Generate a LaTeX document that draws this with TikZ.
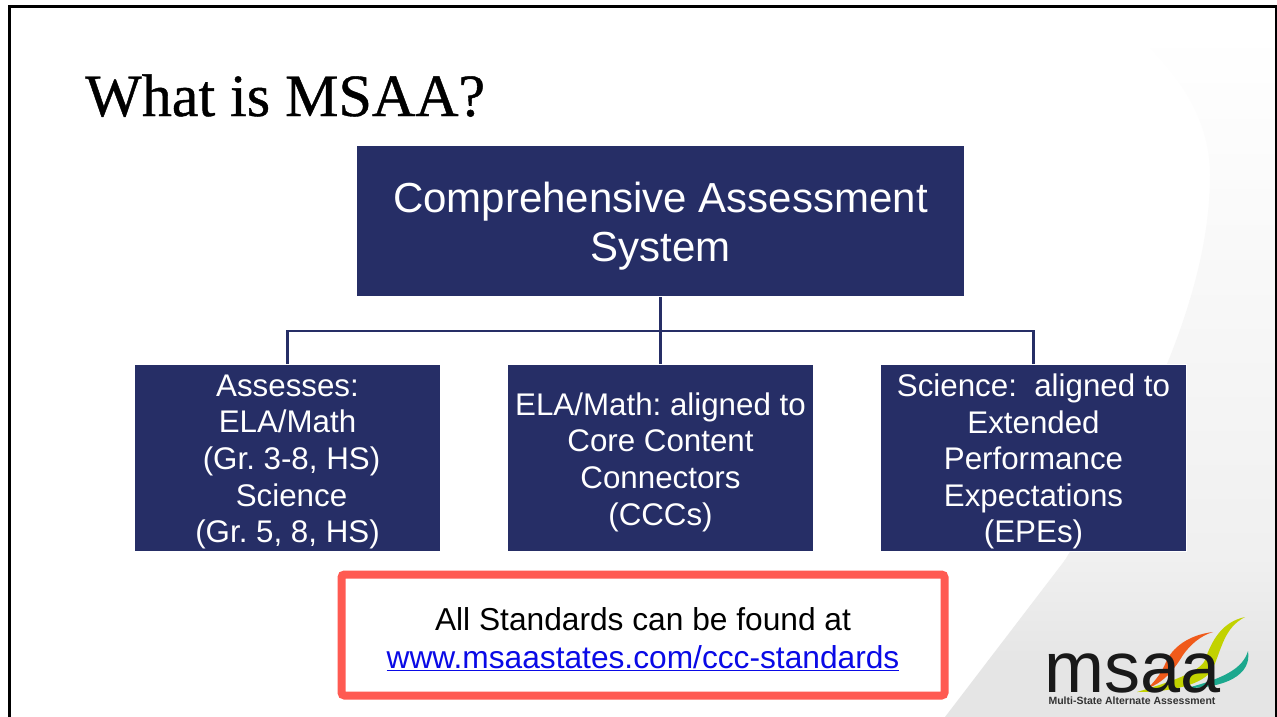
\documentclass[tikz,border=0pt]{standalone}
\usepackage{fontspec}
\setmainfont{Liberation Sans}
\newfontfamily\titlefont[FakeBold=0.7]{Liberation Serif}
\usetikzlibrary{calc}
\definecolor{navy}{HTML}{262E66}
\definecolor{coral}{HTML}{FF5A52}
\definecolor{linkblue}{HTML}{0A0AE6}
\definecolor{lime}{HTML}{C2D200}
\definecolor{leaforange}{HTML}{F05A1A}
\definecolor{leafteal}{HTML}{1CA88E}
\tikzset{
  box/.style={fill=navy,draw=white,line width=1pt,inner sep=0pt,anchor=north west},
  lowerbox/.style={box,minimum width=306pt,minimum height=187pt},
  boxtext/.style={text=white,inner sep=0pt,align=center,anchor=center},
  lowertext/.style={boxtext,font=\fontsize{31.3}{36.6}\selectfont},
  conn/.style={draw=navy,line width=2.4pt},
}
\begin{document}
\frenchspacing
\begin{tikzpicture}[x=1pt,y=-1pt]
\useasboundingbox (0,0) rectangle (1277,717);
\fill[white] (0,0) rectangle (1277,717);
% background swoosh
\begin{scope}
\clip (1140,38) .. controls (1190,85) and (1210,130) .. (1210,175)
  .. controls (1210,290) and (1150,420) .. (1065,560)
  -- (945,717) -- (1277,717) -- (1277,38) -- cycle;
\shade[top color=white,bottom color=black!3] (900,30) rectangle (1277,300);
\shade[top color=black!3,bottom color=black!6] (900,300) rectangle (1277,560);
\shade[top color=black!6,bottom color=black!10] (900,560) rectangle (1277,660);
\fill[black!10] (900,660) rectangle (1277,717);
\end{scope}
% frame
\draw[black,line width=3pt] (9,717) -- (9,7) -- (1276,7) -- (1276,717);
% title
\node (title) [anchor=base west,inner sep=0pt,font=\titlefont\fontsize{60}{60}\selectfont] at (85,116) {What is MSAA?};
% boxes
\node (top) [box,minimum width=608pt,minimum height=151pt] at (356,145) {};
\node (left) [lowerbox] at (134,363.5) {};
\node (mid) [lowerbox] at (507,364) {};
\node (right) [lowerbox] at (880,364) {};
% box texts
\node (toptext) [boxtext,font=\fontsize{42}{48.5}\selectfont] at ($(top.center)+(0,5)$) {Comprehensive Assessment\\System};
\node (lefttext) [lowertext] at ($(left.center)+(0,4.5)$) {Assesses:\\ELA/Math\\\hspace*{8pt}(Gr. 3-8, HS)\\\hspace*{8pt}Science\\(Gr. 5, 8, HS)};
\node (midtext) [lowertext] at ($(mid.center)+(0,4)$) {ELA/Math: aligned to\\Core Content\\Connectors\\(CCCs)};
\node (righttext) [lowertext] at ($(right.center)+(0,3.5)$) {Science:\ \ aligned to\\Extended\\Performance\\Expectations\\(EPEs)};
% connectors
\coordinate (bus) at ($(top.south)+(0,34)$);
\draw[conn] (top.south) -- (bus);
\draw[conn] (bus) -- (bus |- mid.north);
\draw[conn] (left.north) |- (bus);
\draw[conn] (right.north) |- (bus);
% callout
\node (note) [draw=coral,fill=white,line width=8pt,rounded corners=3pt,minimum width=603pt,minimum height=121pt,inner sep=0pt,anchor=center] at (643,635) {};
\node (notetext) [inner sep=0pt,align=center,anchor=center,font=\fontsize{31.7}{38.5}\selectfont] at ($(note.center)+(0,4)$) {All Standards can be found at\\{\color{linkblue}\underline{www.msaastates.com/ccc-standards}}};
% logo swooshes
\fill[leafteal] (1248,651) .. controls (1243,668) and (1225,678) .. (1187,688)
  .. controls (1225,688) and (1252,675) .. (1248,651) -- cycle;
\fill[lime] (1245,617) .. controls (1222,622) and (1212,640) .. (1205,660)
  .. controls (1200,672) and (1170,682) .. (1137,692)
  .. controls (1170,692) and (1205,685) .. (1213,668)
  .. controls (1222,648) and (1224,628) .. (1245,617) -- cycle;
\fill[leaforange] (1213,632) .. controls (1188,635) and (1172,648) .. (1166,662)
  .. controls (1162,672) and (1156,680) .. (1148,688)
  .. controls (1165,682) and (1175,668) .. (1183,655)
  .. controls (1190,645) and (1200,636) .. (1213,632) -- cycle;
% logo text
\node (logotext) [anchor=base,inner sep=0pt,font=\fontsize{72}{72}\selectfont,text=black!90] at (1132.5,692.5) {msaa};
\node (logosub) [anchor=base,inner sep=0pt,font=\bfseries\fontsize{10.5}{10.5}\selectfont,text=black!80] at (1132,704.5) {Multi-State Alternate Assessment};
\end{tikzpicture}
\end{document}
